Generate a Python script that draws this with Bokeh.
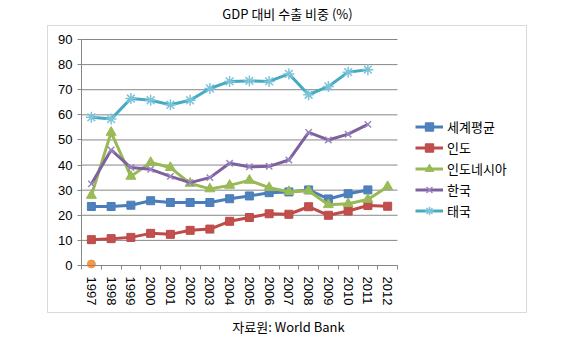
from bokeh.plotting import figure
from bokeh.models import (Range1d, FixedTicker, Legend, LegendItem, Label, BoxAnnotation, LinearAxis)
from bokeh.embed import file_html
from bokeh.resources import INLINE

years = list(range(1997, 2013))
world = [23.5, 23.5, 24.0, 25.8, 25.1, 25.1, 25.1, 26.6, 27.7, 29.0, 29.3, 30.1, 26.5, 28.6, 30.1, None]
india = [10.3, 10.7, 11.2, 12.8, 12.4, 14.0, 14.5, 17.6, 19.1, 20.6, 20.4, 23.4, 20.0, 21.7, 23.9, 23.6]
indonesia = [27.9, 53.0, 35.5, 41.0, 39.0, 32.7, 30.5, 31.9, 33.9, 31.0, 29.4, 29.8, 24.2, 24.6, 26.3, 31.4]
korea = [32.5, 46.0, 39.0, 38.3, 35.5, 33.0, 35.0, 40.7, 39.3, 39.5, 42.0, 53.0, 50.0, 52.3, 56.2, None]
thailand = [59.0, 58.3, 66.5, 65.8, 64.0, 65.8, 70.5, 73.3, 73.5, 73.3, 76.3, 68.0, 71.3, 77.0, 78.0, None]
other_years = [1997]
other = [0.6]
y_ticks = list(range(0, 100, 10))

title_text = "GDP 대비 수출 비중 (%)"
source_text = "자료원: World Bank"

KR = "Noto Sans CJK KR"
NUM = "Liberation Sans"
GRID = "#868686"

# pixel geometry of the inner plot area
W, H = 562, 340
PX = 19.75          # px per year
PY = 226 / 90.0     # px per unit
X0_PIX, Y0_PIX = 81, 265
XLO, XHI = years[0] - 0.5, years[-1] + 0.5

def dx(sx):
    return XLO + (sx - X0_PIX) / PX

def dy(sy):
    return (Y0_PIX - sy) / PY

p = figure(width=W, height=H, output_backend="svg", toolbar_location=None,
           x_range=Range1d(dx(0), dx(W)), y_range=Range1d(dy(H), dy(0)),
           x_axis_location=None, y_axis_location=None, min_border=0)
p.outline_line_color = None
p.xgrid.visible = False
p.ygrid.visible = False

# horizontal gridlines limited to the plot area
p.segment(x0=[XLO] * len(y_ticks), x1=[XHI] * len(y_ticks), y0=y_ticks, y1=y_ticks,
          line_color=GRID, line_width=1)

yax = LinearAxis(fixed_location=XLO, bounds=(0, 90), ticker=FixedTicker(ticks=y_ticks))
yax.axis_line_color = GRID
yax.major_tick_line_color = GRID
yax.major_tick_out = 4
yax.major_tick_in = 0
yax.minor_tick_line_color = None
yax.major_label_text_font = NUM
yax.major_label_text_font_size = "13px"
yax.major_label_text_color = "black"
yax.major_label_standoff = 5
p.add_layout(yax, "left")

xax = LinearAxis(fixed_location=0, bounds=(XLO, XHI),
                 ticker=FixedTicker(ticks=years, minor_ticks=[y - 0.5 for y in years] + [XHI]))
xax.major_label_overrides = {y: str(y) for y in years}
xax.axis_line_color = GRID
xax.major_tick_line_color = None
xax.minor_tick_line_color = GRID
xax.minor_tick_out = 4
xax.minor_tick_in = 0
xax.major_label_orientation = "vertical"
xax.major_label_text_font = NUM
xax.major_label_text_font_size = "13px"
xax.major_label_text_color = "black"
xax.major_label_standoff = 5
p.add_layout(xax, "below")

series = [
    ("세계평균", world, "#4A7EBB", "square", "#4F81BD", 8),
    ("인도", india, "#BE4B48", "square", "#C0504D", 8),
    ("인도네시아", indonesia, "#98B954", "triangle", "#9BBB59", 10),
    ("한국", korea, "#7D60A0", "x", "#9A86BE", 9),
    ("태국", thailand, "#46AAC5", "asterisk", "#7DC4D8", 11),
]

items = []
for name, vals, lc, marker, mc, ms in series:
    xs = [y for y, v in zip(years, vals) if v is not None]
    vs = [v for v in vals if v is not None]
    lr = p.line(xs, vs, line_color=lc, line_width=3)
    if marker in ("x", "asterisk"):
        sr = p.scatter(xs, vs, marker=marker, size=ms, line_color=mc, line_width=1.5)
    else:
        sr = p.scatter(xs, vs, marker=marker, size=ms, fill_color=mc, line_color=lc, line_width=1)
    items.append(LegendItem(label=name, renderers=[lr, sr]))

p.scatter(other_years, other, marker="circle", size=8, fill_color="#F79646", line_color="#F79646")

legend = Legend(items=items, location=(415, H - 220.5), orientation="vertical")
legend.border_line_color = None
legend.background_fill_alpha = 0
legend.padding = 0
legend.margin = 0
legend.spacing = 0
legend.label_height = 21
legend.glyph_height = 21
legend.glyph_width = 28
legend.label_standoff = 4
legend.label_text_font = KR
legend.label_text_font_size = "13px"
legend.label_text_color = "black"
p.add_layout(legend)

p.add_layout(Label(x=dx(287), y=dy(13), text=title_text, text_align="center", text_baseline="middle",
                   text_font=KR, text_font_size="13px", text_color="black"))
p.add_layout(Label(x=dx(288), y=dy(326), text=source_text, text_align="center", text_baseline="middle",
                   text_font=KR, text_font_size="13px", text_color="black"))
p.add_layout(BoxAnnotation(left=dx(47), right=dx(526), top=dy(25), bottom=dy(312),
                           fill_alpha=0, line_color=GRID, line_width=1, level="underlay"))

open("out.html", "w").write(file_html(p, INLINE))
